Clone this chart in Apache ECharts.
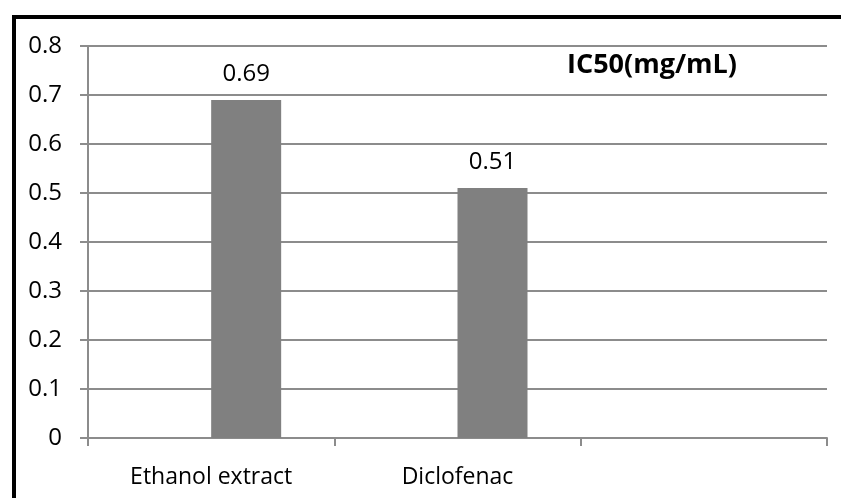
<!DOCTYPE html>
<html>
<head>
<meta charset="utf-8">
<script src="https://cdn.jsdelivr.net/npm/echarts@6/dist/echarts.min.js"></script>
<style>
  html, body { margin: 0; padding: 0; background: #fff; }
  #chart { width: 841px; height: 498px; }
</style>
</head>
<body>
<div id="chart"></div>
<script>
// Categories on the x axis (third slot left blank)
const categories = ['Ethanol extract', 'Diclofenac', ''];
// IC50 values, mg/mL
const ic50Values = [0.69, 0.51, null];
// Empty companion series occupying the first slot of each cluster
const blankSeries = [null, null, null];
const chartTitle = 'IC50(mg/mL)';

const FONT = '"Open Sans", Lato, sans-serif';
const chart = echarts.init(document.getElementById('chart'), null, { renderer: 'canvas' });

chart.setOption({
  backgroundColor: '#ffffff',
  animation: false,
  grid: { left: 88, right: 14, top: 46, bottom: 60, containLabel: false },
  graphic: [
    {
      type: 'rect',
      shape: { x: 14, y: 17, width: 840, height: 500 },
      style: { fill: 'none', stroke: '#000', lineWidth: 4 },
      silent: true
    },
    {
      type: 'text',
      left: 567,
      top: 52,
      style: { text: chartTitle, font: 'bold 27px ' + FONT, fill: '#000' }
    }
  ],
  xAxis: {
    type: 'category',
    data: categories,
    axisLine: { lineStyle: { color: '#8c8c8c', width: 2 } },
    axisTick: { show: true, length: 8, lineStyle: { color: '#8c8c8c', width: 2 } },
    axisLabel: { color: '#000', fontFamily: FONT, fontSize: 23, margin: 28 }
  },
  yAxis: {
    type: 'value',
    min: 0,
    max: 0.8,
    interval: 0.1,
    axisLine: { show: true, lineStyle: { color: '#8c8c8c', width: 2 } },
    axisTick: { show: true, length: 8, lineStyle: { color: '#8c8c8c', width: 2 } },
    axisLabel: {
      color: '#000', fontFamily: FONT, fontSize: 24, margin: 26,
      formatter: v => String(Math.round(v * 10) / 10)
    },
    splitLine: { lineStyle: { color: '#8c8c8c', width: 2 } }
  },
  series: [
    {
      type: 'bar',
      data: blankSeries,
      barWidth: 70,
      barGap: '0%',
      itemStyle: { color: '#808080' }
    },
    {
      type: 'bar',
      data: ic50Values,
      barWidth: 70,
      barGap: '0%',
      itemStyle: { color: '#808080' },
      label: {
        show: true,
        position: 'top',
        distance: 14,
        color: '#000',
        fontFamily: FONT,
        fontSize: 24,
        formatter: p => p.value == null ? '' : p.value.toFixed(2)
      }
    }
  ]
});
</script>
</body>
</html>
